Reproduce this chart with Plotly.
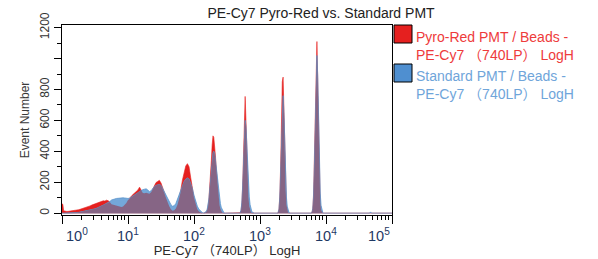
import plotly.graph_objects as go

# ---- data ----
# position of each histogram channel, in decades (log10 of PE-Cy7 LogH value)
decade_pos = [
    0.000, 0.0125, 0.025, 0.050, 0.075, 0.100, 0.125, 0.150, 0.175, 0.200,
    0.225, 0.250, 0.275, 0.300, 0.325, 0.350, 0.375, 0.400, 0.425, 0.450,
    0.475, 0.500, 0.525, 0.550, 0.575, 0.600, 0.625, 0.650, 0.675, 0.700,
    0.725, 0.750, 0.775, 0.800, 0.825, 0.850, 0.875, 0.900, 0.925, 0.950,
    0.975, 1.000, 1.025, 1.050, 1.075, 1.100, 1.125, 1.150, 1.175, 1.200,
    1.225, 1.250, 1.275, 1.300, 1.325, 1.350, 1.375, 1.400, 1.425, 1.450,
    1.475, 1.500, 1.525, 1.550, 1.575, 1.600, 1.625, 1.650, 1.675, 1.700,
    1.725, 1.750, 1.775, 1.800, 1.825, 1.850, 1.875, 1.900, 1.925, 1.950,
    1.975, 2.000, 2.025, 2.050, 2.075, 2.100, 2.125, 2.150,
    # peak near 10^2.3
    2.175, 2.1875, 2.200, 2.2125, 2.225, 2.2375, 2.250, 2.2625, 2.275, 2.2875,
    2.300, 2.3125, 2.325, 2.3375, 2.350, 2.3625, 2.375, 2.3875, 2.400, 2.4125,
    2.425, 2.4375, 2.450, 2.4625, 2.475,
    # peak near 10^2.77
    2.6875, 2.700, 2.7125, 2.725, 2.7375, 2.750, 2.7625, 2.775, 2.7875, 2.800,
    2.8125, 2.825, 2.8375, 2.850, 2.8625, 2.875, 2.8875, 2.900, 2.9125,
    # peak near 10^3.35
    3.2625, 3.275, 3.2875, 3.300, 3.3125, 3.325, 3.3375, 3.350, 3.3625, 3.375,
    3.3875, 3.400, 3.4125, 3.425, 3.4375, 3.450, 3.4625,
    # peak near 10^3.87
    3.775, 3.7875, 3.800, 3.8125, 3.825, 3.8375, 3.850, 3.8625, 3.875, 3.8875,
    3.900, 3.9125, 3.925, 3.9375, 3.950, 3.9625, 3.975,
    # small blip
    4.660, 4.675, 4.690, 5.000,
]

pyro_red_counts = [
    60, 57, 15, 12, 11, 12, 13, 14, 15, 17,
    19, 22, 25, 28, 31, 35, 38, 42, 47, 52,
    56, 60, 63, 68, 72, 76, 80, 78, 84, 80,
    72, 58, 55, 52, 48, 45, 42, 40, 43, 52,
    65, 85, 100, 110, 120, 130, 140, 150, 168, 150,
    130, 128, 132, 128, 125, 135, 155, 180, 198, 205,
    212, 195, 165, 130, 100, 70, 45, 25, 15, 18,
    30, 55, 100, 150, 215, 270, 305, 320, 300, 230,
    160, 100, 55, 25, 10, 3, 0, 0,
    3, 8, 18, 40, 85, 150, 240, 340, 440, 500,
    490, 440, 370, 290, 210, 140, 85, 50, 28, 14,
    6, 2, 0, 0, 0,
    0, 3, 15, 60, 180, 380, 650, 755, 600, 380,
    200, 100, 45, 18, 6, 2, 0, 0, 0,
    0, 4, 25, 110, 300, 580, 850, 880, 640, 340,
    150, 55, 18, 5, 1, 0, 0,
    0, 5, 30, 130, 380, 720, 1000, 1110, 850, 480,
    200, 70, 20, 5, 1, 0, 0,
    0, 0, 0, 0,
]

standard_counts = [
    0, 0, 0, 0, 0, 0, 0, 1, 2, 3,
    4, 5, 7, 9, 11, 13, 15, 17, 19, 21,
    24, 28, 32, 36, 41, 46, 52, 58, 63, 68,
    75, 85, 90, 92, 95, 96, 98, 97, 99, 98,
    96, 95, 97, 103, 110, 118, 125, 132, 140, 148,
    152, 155, 157, 150, 138, 145, 160, 172, 180, 183,
    186, 180, 160, 135, 110, 90, 72, 55, 45, 48,
    62, 90, 120, 150, 180, 205, 220, 228, 222, 195,
    160, 115, 75, 45, 25, 12, 4, 0,
    6, 12, 25, 50, 90, 145, 210, 280, 345, 390,
    400, 385, 345, 295, 240, 185, 135, 95, 62, 38,
    22, 11, 5, 1, 0,
    0, 5, 20, 70, 170, 330, 520, 600, 560, 430,
    290, 180, 105, 55, 28, 12, 5, 1, 0,
    0, 5, 25, 100, 260, 480, 700, 760, 650, 420,
    230, 105, 45, 18, 6, 2, 0,
    0, 5, 28, 110, 320, 620, 900, 1020, 880, 580,
    300, 130, 50, 18, 6, 1, 0,
    0, 8, 0, 0,
]

x_tick_exponents = [0, 1, 2, 3, 4, 5]
y_tick_values = [0, 200, 400, 600, 800, 1000, 1200]
y_tick_text = ["0", "200", "400", "600", "800", "", "1200"]

series_names = ["Pyro-Red PMT / Beads -<br>PE-Cy7 （740LP） LogH",
                "Standard PMT / Beads -<br>PE-Cy7 （740LP） LogH"]

# ---- styling ----
RED = "#e5201f"
BLUE = "#74a8da"
BLUE_EDGE = "#5a94cc"
PURPLE = "#866585"
FONT = "Liberation Sans, Arial, Noto Sans CJK SC, sans-serif"

W, H = 598, 259
ML, MR, MT, MB = 62, 206, 25, 44
PW, PH = W - ML - MR, H - MT - MB


def px_x(px):
    return (px - ML) / PW


def px_y(py):
    return (H - MB - py) / PH


xs = [10 ** d for d in decade_pos]
overlap = [min(a, b) for a, b in zip(pyro_red_counts, standard_counts)]

fig = go.Figure()
fig.add_trace(go.Scatter(x=xs, y=pyro_red_counts, mode="lines", fill="tozeroy",
                         line=dict(color=RED, width=0.6), fillcolor=RED,
                         name="Pyro-Red PMT", showlegend=False, hoverinfo="skip"))
fig.add_trace(go.Scatter(x=xs, y=standard_counts, mode="lines", fill="tozeroy",
                         line=dict(color=BLUE_EDGE, width=0.8), fillcolor=BLUE,
                         name="Standard PMT", showlegend=False, hoverinfo="skip"))
fig.add_trace(go.Scatter(x=xs, y=overlap, mode="lines", fill="tozeroy",
                         line=dict(color=PURPLE, width=0), fillcolor=PURPLE,
                         name="overlap", showlegend=False, hoverinfo="skip"))

minor_vals = [m * 10 ** k for k in x_tick_exponents[:-1] for m in range(2, 10)]

fig.update_xaxes(type="log", range=[0, 5], showgrid=False, zeroline=False,
                 showline=True, linecolor="black", linewidth=1, mirror=True,
                 ticks="outside", ticklen=8, tickcolor="black", tickwidth=1,
                 tickmode="array", tickvals=[10 ** k for k in x_tick_exponents],
                 showticklabels=False,
                 minor=dict(ticks="outside", ticklen=4, tickcolor="black",
                            tickmode="array", tickvals=minor_vals),
                 title=dict(text="PE-Cy7 （740LP） LogH",
                            font=dict(family=FONT, size=13, color="#2b2b2b"),
                            standoff=22))

fig.update_yaxes(range=[-12, 1217], showgrid=False, zeroline=False,
                 showline=True, linecolor="black", linewidth=1, mirror=True,
                 ticks="outside", ticklen=7, tickcolor="black",
                 tickmode="array", tickvals=y_tick_values, ticktext=y_tick_text,
                 tickangle=-90, tickfont=dict(family=FONT, size=12, color="#333333"),
                 minor=dict(ticks="outside", ticklen=4, tickcolor="black", dtick=100, tick0=0),
                 title=dict(text="Event Number",
                            font=dict(family=FONT, size=12, color="#3a3a3a"),
                            standoff=6))

annotations = []
for k in x_tick_exponents:
    anchor = "center"
    shift = 0
    if k == x_tick_exponents[0]:
        anchor, shift = "left", 2
    elif k == x_tick_exponents[-1]:
        anchor, shift = "right", 0
    annotations.append(dict(x=k, y=px_y(224), xref="x", yref="paper",
                            text=f"10<sup>{k}</sup>", showarrow=False,
                            xanchor=anchor, yanchor="top", xshift=shift,
                            font=dict(family=FONT, size=14.5, color="#1f3864")))

legend_colors = [(RED, "#ee3b3b"), ("#4f8fd0", "#6fa5da")]
legend_tops = [25, 64]
shapes = []
for (sq, txt), top, name in zip(legend_colors, legend_tops, series_names):
    shapes.append(dict(type="rect", xref="paper", yref="paper",
                       x0=px_x(394), x1=px_x(412), y0=px_y(top), y1=px_y(top + 18),
                       fillcolor=sq, line=dict(color="black", width=1)))
    annotations.append(dict(x=px_x(414), y=px_y(top + 21), xref="paper", yref="paper",
                            text=name, showarrow=False, xanchor="left", yanchor="middle",
                            align="left",
                            font=dict(family=FONT, size=14, color=txt)))

fig.update_layout(
    width=W, height=H,
    margin=dict(l=ML, r=MR, t=MT, b=MB, autoexpand=False),
    paper_bgcolor="white", plot_bgcolor="white",
    title=dict(text="PE-Cy7 Pyro-Red vs. Standard PMT", x=321 / W, xref="container",
               xanchor="center", y=1 - 13 / H, yref="container", yanchor="middle",
               font=dict(family=FONT, size=14, color="#222222")),
    annotations=annotations, shapes=shapes, showlegend=False,
)

fig.write_html("out.html", config={"displayModeBar": False, "staticPlot": True},
               post_script="document.body.style.margin='0';document.body.style.overflow='hidden';")
